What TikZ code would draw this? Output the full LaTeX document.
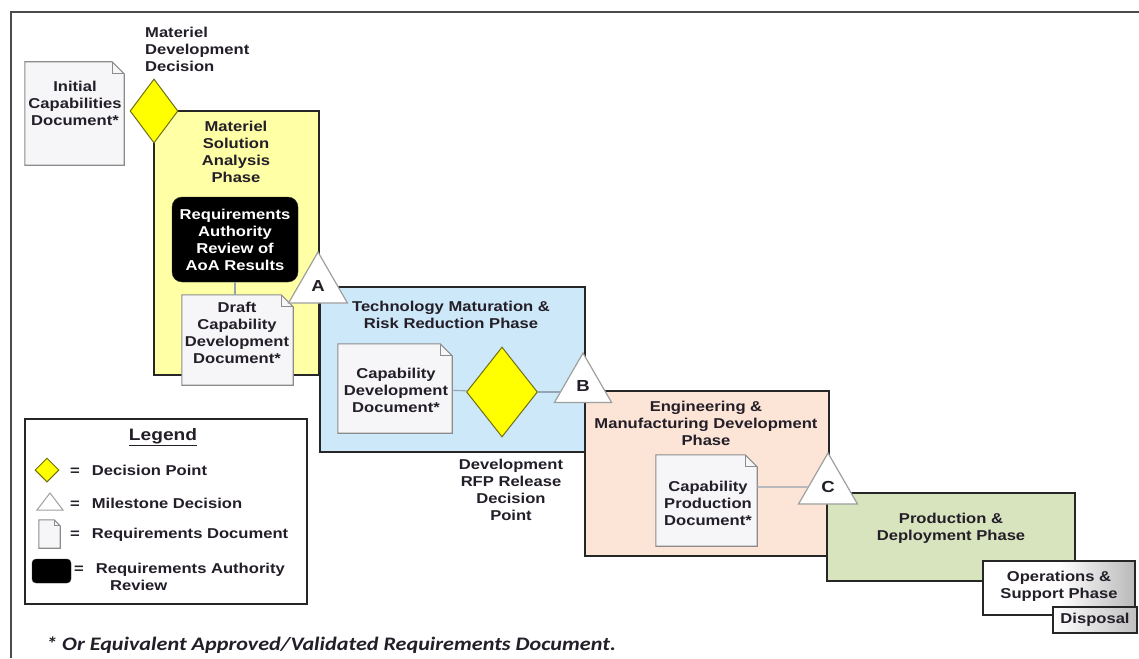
\documentclass[tikz,border=0pt]{standalone}
\usepackage{fontspec}
\usetikzlibrary{shapes.geometric}
\newfontfamily\af[FakeStretch=1.16]{Liberation Sans}
\newfontfamily\cf[FakeStretch=1.16]{Carlito}
\definecolor{msay}{RGB}{255,255,165}
\definecolor{tmrrb}{RGB}{205,232,248}
\definecolor{emdo}{RGB}{252,228,214}
\definecolor{pdg}{RGB}{216,228,190}
\definecolor{dy}{RGB}{255,255,0}
\definecolor{dyb}{RGB}{110,110,20}
\definecolor{textc}{RGB}{35,30,40}
\definecolor{connc}{RGB}{150,165,180}
\definecolor{docfill}{RGB}{246,246,248}
\definecolor{docline}{RGB}{140,140,140}
\newcommand\docshape[2][12]{%
  \filldraw[draw=docline, line width=1.1pt, fill=docfill] (#2.north west) -- ([xshift=-#1pt]#2.north east) -- ([yshift=-#1pt]#2.north east) -- (#2.south east) -- (#2.south west) -- cycle;
  \draw[draw=docline, line width=0.8pt] ([xshift=-#1pt]#2.north east) -- ([xshift=-#1pt,yshift=-#1pt]#2.north east) -- ([yshift=-#1pt]#2.north east);
}
\begin{document}
\begin{tikzpicture}[x=1pt,y=-1pt,
  txt/.style={font={\af\bfseries\fontsize{14.3}{17}\selectfont}, align=center, text=textc, inner sep=0pt},
  phase/.style={draw=black!85, line width=1.4pt, inner sep=0pt, rectangle},
  docbox/.style={rectangle, inner sep=0pt, draw=none},
  dpoint/.style={diamond, draw=dyb, fill=dy, line width=1pt, inner sep=0pt},
  mstone/.style={regular polygon, regular polygon sides=3, draw=gray!75, fill=white, line width=1.2pt, inner sep=0pt, font={\af\bfseries\fontsize{16}{18}\selectfont}, text=textc},
  conn/.style={draw=connc, line width=1.1pt},
  review/.style={rectangle, rounded corners=10pt, fill=black, draw=black!80, inner sep=0pt}]
\useasboundingbox (0,0) rectangle (1139,658);
\fill[white] (0,0) rectangle (1139,658);
\draw[black!70, line width=1.8pt] (1139,12) -- (11,12) -- (11,658);

% Initial capabilities document
\node[docbox, minimum width=99pt, minimum height=103pt] (icd) at (74.5,113.5) {};
\docshape{icd}
\node[txt] (icdt) at (75,103) {Initial\\Capabilities\\Document*};

\node[txt, align=left, anchor=north west] (mddt) at (145,27) {Materiel\\Development\\Decision};

% Materiel Solution Analysis phase
\node[phase, fill=msay, minimum width=165pt, minimum height=264pt] (msa) at (236.5,243) {};
\node[txt] (msat) at (236,152) {Materiel\\Solution\\Analysis\\Phase};
\node[review, minimum width=126pt, minimum height=85pt] (rev) at (235,239.5) {};
\node[txt, text=white] (revt) at (235,239.5) {Requirements\\Authority\\Review of\\AoA Results};

% TMRR phase
\node[phase, fill=tmrrb, minimum width=265pt, minimum height=165pt] (tmrr) at (452.5,369.5) {};
\node[txt] (tmrrt) at (451,315) {Technology Maturation \&\\Risk Reduction Phase};

% draft CDD
\node[docbox, minimum width=111pt, minimum height=90pt] (dcdd) at (237.5,340) {};
\docshape{dcdd}
\node[txt] (dcddt) at (237,333) {Draft\\Capability\\Development\\Document*};
\draw[conn] (rev.south) -- (rev.south |- dcdd.north);

% MDD diamond
\node[dpoint, minimum width=48pt, minimum height=64pt] (mdd) at (154,111) {};

% Milestone A
\node[mstone, minimum size=68pt] (msA) at (318,286) {A};

% CDD
\node[docbox, minimum width=114pt, minimum height=89pt] (cdd) at (395,388.5) {};
\docshape{cdd}
\node[txt] (cddt) at (396,390) {Capability\\Development\\Document*};

% EMD phase
\node[phase, fill=emdo, minimum width=244pt, minimum height=165pt] (emd) at (707,473.5) {};
\node[txt] (emdt) at (706,423) {Engineering \&\\Manufacturing Development\\Phase};

% RFP decision point
\node[dpoint, minimum width=71pt, minimum height=90pt] (rfp) at (502,392) {};
\node[txt] (rfpt) at (511,490) {Development\\RFP Release\\Decision\\Point};

% Milestone B
\node[mstone, minimum size=66pt] (msB) at (583,386) {B};
\draw[conn] (cdd) -- (rfp);
\draw[conn, shorten >=22.5pt] (rfp.east) -- (rfp.east -| msB);

% CPD
\node[docbox, minimum width=101pt, minimum height=91pt] (cpd) at (706.5,500.5) {};
\docshape{cpd}
\node[txt] (cpdt) at (708,503) {Capability\\Production\\Document*};

% P&D phase
\node[phase, fill=pdg, minimum width=248pt, minimum height=88pt] (pd) at (951,537) {};
\node[txt] (pdt) at (951,528) {Production \&\\Deployment Phase};

% Milestone C
\node[mstone, minimum size=68pt] (msC) at (828,487) {C};
\draw[conn] (cpd.east |- msC) -- (msC);

% O&S and disposal
\node[phase, left color=white, right color=gray!55, middle color=white, minimum width=152pt, minimum height=54pt] (os) at (1059,588) {};
\node[txt] (ost) at (1059,586) {Operations \&\\Support Phase};
\node[phase, left color=white, right color=gray!50, minimum width=84pt, minimum height=26pt] (disp) at (1095,620) {};
\node[txt] (dispt) at (1095,620) {Disposal};

% Legend
\node[phase, fill=white, minimum width=282pt, minimum height=185pt] (leg) at (166,511.5) {};
\node[txt, font={\af\bfseries\fontsize{16.5}{18}\selectfont}] (legt) at (163,437) {\underline{Legend}};
\node[dpoint, minimum width=24pt, minimum height=24pt] (lgd) at (47,470) {};
\node[txt, anchor=west] (lgdt) at (70,470) {=\hspace{12pt}Decision Point};
\draw[draw=gray!75, fill=white, line width=1pt] (37,510) -- (50,493) -- (63,510) -- cycle;
\node[txt, anchor=west] (lgmt) at (70,503) {=\hspace{12pt}Milestone Decision};
\node[docbox, minimum width=21pt, minimum height=28pt] (lgdoc) at (49.5,534) {};
\docshape[6]{lgdoc}
\node[txt, anchor=west] (lgdoct) at (70,535) {=\hspace{12pt}Requirements Document};
\node[review, rounded corners=4pt, minimum width=39pt, minimum height=24pt] (lgrev) at (51.5,571) {};
\node[txt, anchor=north west, align=left] (lgrevt) at (74,563) {=\hspace{12pt}Requirements Authority\\\hspace*{36pt}Review};

% footnote
\node[anchor=west, inner sep=0pt, text=textc, font={\cf\bfseries\itshape\fontsize{19.1}{20}\selectfont}] (foot) at (46,645) {* Or Equivalent Approved/Validated Requirements Document.};
\end{tikzpicture}
\end{document}
